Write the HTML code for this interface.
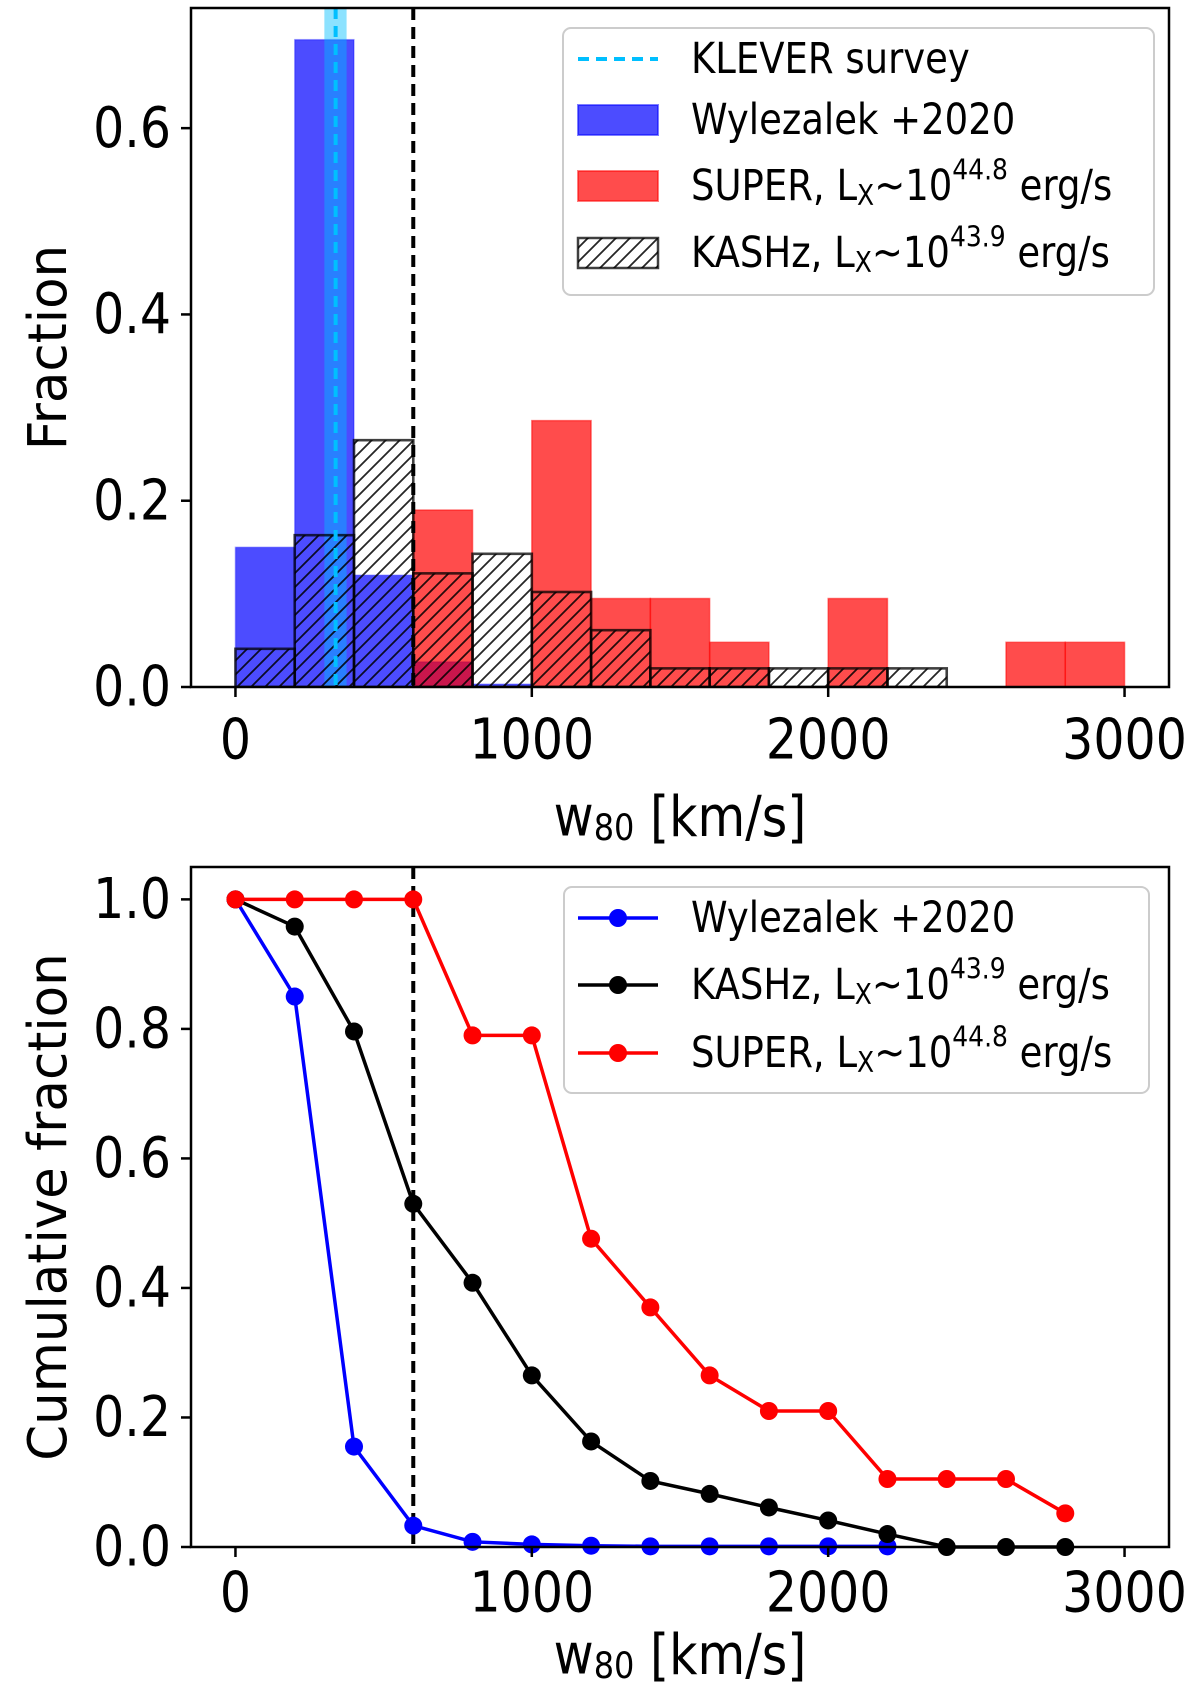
<!DOCTYPE html>
<html><head><meta charset="utf-8"><style>
body{margin:0;background:#fff}
svg{display:block;font-family:"DejaVu Sans","Liberation Sans",sans-serif}
</style></head><body>
<svg id="fig" width="1200" height="1686" viewBox="0 0 1200 1686">
<defs>
<pattern id="hatch" patternUnits="userSpaceOnUse" width="14" height="14" patternTransform="rotate(0)">
<path d="M-1,15 L15,-1 M-8,8 L8,-8 M6,22 L22,6" stroke="#000" stroke-opacity="0.85" stroke-width="1.8"/>
</pattern>
<clipPath id="clipTop"><rect x="191" y="8" width="978" height="679"/></clipPath>
<clipPath id="clipBot"><rect x="191" y="867" width="978" height="680"/></clipPath>
</defs>
<g id="top"></g>
<g id="bot"></g>
</svg>
<script>
// ---- data ----
const binEdges = [0,200,400,600,800,1000,1200,1400,1600,1800,2000,2200,2400,2600,2800,3000];
const wylezalekHist = [0.150,0.695,0.120,0.027,0.003,0,0,0,0,0,0,0,0,0,0];
const superHist = [0,0,0,0.190,0,0.286,0.095,0.095,0.048,0,0.095,0,0,0.048,0.048];
const kashzHist = [0.041,0.163,0.265,0.122,0.143,0.102,0.061,0.020,0.020,0.020,0.020,0.020,0,0,0];
const kleverCenter = 338;
const kleverBand = [300,375];
const thresholdV = 600;
const cumX = [0,200,400,600,800,1000,1200,1400,1600,1800,2000,2200,2400,2600,2800];
const wylezalekCum = [1.0,0.85,0.155,0.033,0.008,0.004,0.002,0.001,0.001,0.001,0.001,0.001];
const kashzCum = [1.0,0.958,0.796,0.53,0.408,0.265,0.163,0.102,0.082,0.061,0.041,0.02,0,0,0];
const superCum = [1,1,1,1,0.79,0.79,0.476,0.37,0.265,0.21,0.21,0.105,0.105,0.105,0.052];
const xTicks = [0,1000,2000,3000];
const topYTicks = [0.0,0.2,0.4,0.6];
const botYTicks = [0.0,0.2,0.4,0.6,0.8,1.0];

const NS="http://www.w3.org/2000/svg";
function el(tag,attrs,parent,text){const e=document.createElementNS(NS,tag);for(const k in attrs)e.setAttribute(k,attrs[k]);if(text!==undefined)e.textContent=text;parent.appendChild(e);return e;}
const SY=1.15;
function stretch(t,x,y){t.setAttribute('transform',`translate(${x},${y}) scale(1,${SY}) translate(${-x},${-y})`);}
const L=191,R=1169;
const xs=v=>L+(v+150)/3300*(R-L);
const T1=8,B1=687, yTop=v=>B1-v/0.729*(B1-T1);
const T2=867,B2=1547, yBot=v=>B2-v/1.05*(B2-T2);

function axes(g,T,B,ys,yt,ylabel,xlabelY,tickY,name){
  el('rect',{x:L,y:T,width:R-L,height:B-T,fill:'none',stroke:'#000','stroke-width':2.5},g);
  xTicks.forEach(v=>{
    el('line',{x1:xs(v),x2:xs(v),y1:B,y2:B+10,stroke:'#000','stroke-width':2.5},g);
    const t=el('text',{x:xs(v),y:tickY,'font-size':49,'text-anchor':'middle','dominant-baseline':'central'},g,String(v));
    stretch(t,xs(v),tickY);
    
    
  });
  yt.forEach(v=>{
    el('line',{x1:L-10,x2:L,y1:ys(v),y2:ys(v),stroke:'#000','stroke-width':2.5},g);
    const t=el('text',{x:L-20,y:ys(v),'font-size':49,'text-anchor':'end','dominant-baseline':'central'},g,v.toFixed(1));
    stretch(t,L-20,ys(v));
    
    
  });
  const xl=el('text',{x:(L+R)/2,y:xlabelY,'font-size':49,'text-anchor':'middle','dominant-baseline':'central'},g);
  xl.innerHTML='w<tspan font-size="32" dy="10">80</tspan><tspan dy="-10"> [km/s]</tspan>';
  stretch(xl,(L+R)/2,xlabelY);
  
  
  const yl=el('text',{x:0,y:0,'font-size':49,'text-anchor':'middle','dominant-baseline':'central',transform:`translate(48,${(T+B)/2}) rotate(-90) scale(1.05,1.1)`},g,ylabel);
  
  
}

// ---- top histogram ----
const gt=document.getElementById('top');
const gtc=el('g',{'clip-path':'url(#clipTop)'},gt);
function bars(vals,fill,stroke,name,sw){
  vals.forEach((v,i)=>{ if(v<=0) return;
    const r=el('rect',{x:xs(binEdges[i]),y:yTop(v),width:xs(binEdges[i+1])-xs(binEdges[i]),height:yTop(0)-yTop(v),fill:fill,stroke:stroke,'stroke-width':sw},gtc);
    
    
  });
}
bars(wylezalekHist,'rgba(0,0,255,0.7)','rgba(0,0,255,0.3)','bar-wylezalek',1.5);
bars(superHist,'rgba(255,0,0,0.7)','rgba(255,0,0,0.5)','bar-super',1.5);
const kb=el('rect',{x:xs(kleverBand[0]),y:T1,width:xs(kleverBand[1])-xs(kleverBand[0]),height:B1-T1,fill:'rgba(0,191,255,0.45)'},gtc);

bars(kashzHist,'url(#hatch)','rgba(0,0,0,0.75)','bar-kashz',2.6);
const kl=el('line',{x1:xs(kleverCenter),x2:xs(kleverCenter),y1:T1,y2:B1,stroke:'#00bfff','stroke-width':4,'stroke-dasharray':'11,7'},gtc);

const th1=el('line',{x1:xs(thresholdV),x2:xs(thresholdV),y1:T1,y2:B1,stroke:'#000','stroke-width':4,'stroke-dasharray':'12,7'},gtc);

axes(gt,T1,B1,yTop,topYTicks,'Fraction',817,740,'top');

// top legend
const lg=el('g',{},gt);


el('rect',{x:563,y:28,width:591,height:267,rx:8,fill:'#fff','fill-opacity':0.8,stroke:'#ccc','stroke-width':2},lg);
el('line',{x1:578,x2:658,y1:59,y2:59,stroke:'#00bfff','stroke-width':4,'stroke-dasharray':'11,7'},lg);
el('rect',{x:578,y:105,width:80,height:30,fill:'rgba(0,0,255,0.7)',stroke:'rgba(0,0,255,0.5)','stroke-width':2},lg);
el('rect',{x:578,y:171,width:80,height:30,fill:'rgba(255,0,0,0.7)',stroke:'rgba(255,0,0,0.5)','stroke-width':2},lg);
el('rect',{x:578,y:238,width:80,height:30,fill:'url(#hatch)',stroke:'rgba(0,0,0,0.75)','stroke-width':2.5},lg);
function legText(g,y,html){const t=el('text',{x:691,y:y,'font-size':37,'dominant-baseline':'central'},g);t.innerHTML=html;stretch(t,691,y);}
legText(lg,59,'KLEVER survey');
legText(lg,120,'Wylezalek +2020');
legText(lg,186,'SUPER, L<tspan font-size="25" dy="8">X</tspan><tspan dy="-8">~10</tspan><tspan font-size="25" dy="-14">44.8</tspan><tspan dy="14"> erg/s</tspan>');
legText(lg,253,'KASHz, L<tspan font-size="25" dy="8">X</tspan><tspan dy="-8">~10</tspan><tspan font-size="25" dy="-14">43.9</tspan><tspan dy="14"> erg/s</tspan>');

// ---- bottom cumulative ----
const gb=document.getElementById('bot');
const gbc=el('g',{'clip-path':'url(#clipBot)'},gb);
const th2=el('line',{x1:xs(thresholdV),x2:xs(thresholdV),y1:T2,y2:B2,stroke:'#000','stroke-width':4,'stroke-dasharray':'12,7'},gbc);

function series(vals,color,name){
  const pts=vals.map((v,i)=>xs(cumX[i])+','+yBot(v)).join(' ');
  const pl=el('polyline',{points:pts,fill:'none',stroke:color,'stroke-width':3.5},gb);
  
  
  vals.forEach((v,i)=>{
    const c=el('circle',{cx:xs(cumX[i]),cy:yBot(v),r:9,fill:color},gb);
    
    
  });
}
series(wylezalekCum,'#0000ff','wylezalek');
series(kashzCum,'#000000','kashz');
series(superCum,'#ff0000','super');
axes(gb,T2,B2,yBot,botYTicks,'Cumulative fraction',1655,1593,'bottom');

const lg2=el('g',{},gb);


el('rect',{x:564,y:887,width:585,height:206,rx:8,fill:'#fff','fill-opacity':0.8,stroke:'#ccc','stroke-width':2},lg2);
[[918,'#0000ff'],[985,'#000'],[1053,'#ff0000']].forEach(([y,c])=>{
  el('line',{x1:578,x2:658,y1:y,y2:y,stroke:c,'stroke-width':3.5},lg2);
  el('circle',{cx:618,cy:y,r:9,fill:c},lg2);
});
legText(lg2,918,'Wylezalek +2020');
legText(lg2,985,'KASHz, L<tspan font-size="25" dy="8">X</tspan><tspan dy="-8">~10</tspan><tspan font-size="25" dy="-14">43.9</tspan><tspan dy="14"> erg/s</tspan>');
legText(lg2,1053,'SUPER, L<tspan font-size="25" dy="8">X</tspan><tspan dy="-8">~10</tspan><tspan font-size="25" dy="-14">44.8</tspan><tspan dy="14"> erg/s</tspan>');
</script>
</body></html>
